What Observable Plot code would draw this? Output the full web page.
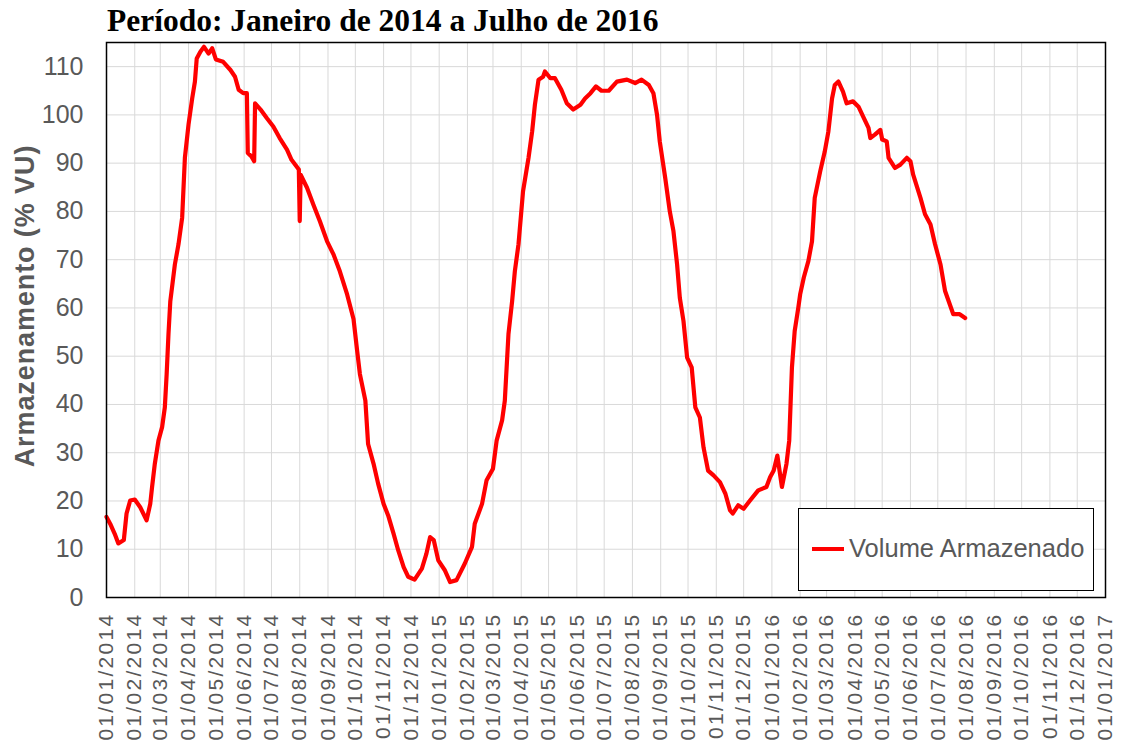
<!DOCTYPE html>
<html>
<head>
<meta charset="utf-8">
<script src="https://cdn.jsdelivr.net/npm/d3@7"></script>
<script src="https://cdn.jsdelivr.net/npm/@observablehq/plot@0.6"></script>
<style>
  body { margin: 0; background: #fff; }
  #wrap { position: relative; width: 1121px; height: 743px; overflow: hidden; font-family: "Liberation Sans", Arial, sans-serif; background: #fff; }
  #title { position: absolute; left: 107px; top: 3px; font-family: "Liberation Serif", "Times New Roman", serif; font-weight: bold; font-size: 31.5px; line-height: 36px; color: #000; white-space: nowrap; }
  #chart { position: absolute; left: 0; top: 36px; }
  #ylab { position: absolute; left: 25px; top: 306px; transform: translate(-50%, -50%) rotate(-90deg); font-weight: bold; font-size: 27px; letter-spacing: 0.9px; color: #595959; white-space: nowrap; }
  #legend { position: absolute; left: 798px; top: 508px; width: 294px; height: 81px; border: 1px solid #000; background: #fff; }
  #legend svg { position: absolute; left: 13px; top: 35px; }
  #legend span { position: absolute; left: 50px; top: 27px; font-size: 25.5px; line-height: 25px; color: #595959; white-space: nowrap; }
  #chart g[aria-label="x-axis tick label"] text { letter-spacing: 2.3px; }
</style>
</head>
<body>
<div id="wrap">
  <div id="title">Período: Janeiro de 2014 a Julho de 2016</div>
  <div id="chart"></div>
  <div id="ylab">Armazenamento (% VU)</div>
  <div id="legend">
    <svg width="34" height="10"><line x1="0" y1="5" x2="32" y2="5" stroke="#ff0000" stroke-width="4"/></svg>
    <span>Volume Armazenado</span>
  </div>
</div>
<script>
// Daily storage series (% VU)
const dates = [
  "2014-01-01","2014-01-05","2014-01-10","2014-01-14","2014-01-20","2014-01-23","2014-01-27","2014-02-01",
  "2014-02-07","2014-02-14","2014-02-18","2014-02-20","2014-02-23","2014-02-27","2014-03-03","2014-03-06",
  "2014-03-08","2014-03-10","2014-03-12","2014-03-17","2014-03-21","2014-03-25","2014-03-28","2014-04-01",
  "2014-04-05","2014-04-08","2014-04-10","2014-04-14","2014-04-18","2014-04-23","2014-04-27","2014-05-01",
  "2014-05-09","2014-05-17","2014-05-22","2014-05-26","2014-05-31","2014-06-04","2014-06-05","2014-06-09",
  "2014-06-12","2014-06-13","2014-06-19","2014-06-26","2014-07-03","2014-07-10","2014-07-18","2014-07-23",
  "2014-07-31","2014-08-01","2014-08-02","2014-08-09","2014-08-16","2014-08-23","2014-08-31","2014-09-07",
  "2014-09-14","2014-09-22","2014-09-29","2014-10-03","2014-10-06","2014-10-12","2014-10-15","2014-10-21",
  "2014-10-26","2014-11-01","2014-11-06","2014-11-12","2014-11-17","2014-11-23","2014-11-28","2014-12-05",
  "2014-12-13","2014-12-18","2014-12-22","2014-12-26","2014-12-31","2015-01-07","2015-01-13","2015-01-20",
  "2015-01-29","2015-02-06","2015-02-09","2015-02-17","2015-02-22","2015-03-01","2015-03-05","2015-03-11",
  "2015-03-14","2015-03-18","2015-03-22","2015-03-25","2015-03-29","2015-04-03","2015-04-09","2015-04-13",
  "2015-04-16","2015-04-20","2015-04-25","2015-04-27","2015-05-03","2015-05-08","2015-05-15","2015-05-21",
  "2015-05-28","2015-06-05","2015-06-10","2015-06-16","2015-06-22","2015-06-28","2015-07-06","2015-07-15",
  "2015-07-26","2015-08-04","2015-08-11","2015-08-19","2015-08-24","2015-08-28","2015-08-31","2015-09-06",
  "2015-09-11","2015-09-15","2015-09-19","2015-09-22","2015-09-26","2015-09-30","2015-10-05","2015-10-09",
  "2015-10-14","2015-10-18","2015-10-23","2015-10-29","2015-11-05","2015-11-11","2015-11-16","2015-11-19",
  "2015-11-25","2015-12-01","2015-12-08","2015-12-17","2015-12-26","2015-12-30","2016-01-03","2016-01-07",
  "2016-01-12","2016-01-17","2016-01-20","2016-01-23","2016-01-26","2016-01-30","2016-02-01","2016-02-05",
  "2016-02-10","2016-02-14","2016-02-17","2016-02-23","2016-02-28","2016-03-03","2016-03-07","2016-03-10",
  "2016-03-14","2016-03-19","2016-03-23","2016-03-30","2016-04-05","2016-04-10","2016-04-16","2016-04-18",
  "2016-04-23","2016-04-29","2016-05-01","2016-05-06","2016-05-08","2016-05-15","2016-05-21","2016-05-28",
  "2016-06-01","2016-06-04","2016-06-12","2016-06-17","2016-06-23","2016-06-28","2016-07-04","2016-07-09",
  "2016-07-18","2016-07-25","2016-07-31"
];
const volume = [
  16.7,15.3,13.2,11.2,11.9,17.4,20.1,20.3,
  18.7,16.0,19.4,22.9,27.7,32.5,35.3,39.4,
  46.3,54.6,61.4,69.0,73.2,78.7,91.1,98.0,
  103.4,106.9,111.7,113.1,114.1,112.7,113.8,111.5,
  111.0,109.3,107.9,105.2,104.5,104.5,92.1,91.4,
  90.4,102.4,101.1,99.3,97.6,95.2,92.8,90.7,
  88.7,78.0,87.6,84.9,81.4,78.0,73.8,71.1,
  67.6,62.8,57.7,51.1,46.3,40.8,31.8,27.7,
  23.6,19.4,17.0,13.2,9.8,6.3,4.3,3.7,
  6.0,9.1,12.5,11.9,7.7,5.7,3.2,3.6,
  7.0,10.5,15.3,19.4,24.3,26.7,32.5,36.7,
  40.8,54.6,61.4,67.6,73.2,84.2,91.1,96.6,
  102.1,107.3,107.9,109.0,107.6,107.6,105.2,102.4,
  101.1,102.1,103.4,104.5,105.9,105.0,105.0,106.9,
  107.3,106.6,107.3,106.2,104.5,100.0,94.5,86.9,
  80.0,75.9,69.0,62.1,57.3,49.7,47.7,39.4,
  37.3,31.1,26.3,25.3,23.9,21.5,18.1,17.4,
  19.1,18.4,20.1,22.2,22.9,24.9,26.3,29.4,
  22.9,27.7,32.5,47.7,55.2,60.1,62.8,66.3,
  69.7,73.8,82.8,88.3,92.4,96.6,103.4,106.2,
  106.9,104.8,102.4,102.8,101.7,99.7,97.3,95.2,
  95.9,96.9,94.9,94.5,91.1,89.0,89.7,91.1,
  90.4,87.6,82.8,79.4,77.3,73.2,69.0,63.5,
  58.7,58.7,57.9
];
// Axis ticks
const yTicks = [0, 10, 20, 30, 40, 50, 60, 70, 80, 90, 100, 110];
const xStart = "2014-01-01";
const xEnd = "2017-01-01";

const parse = s => new Date(s + "T00:00:00Z");
const data = dates.map((d, i) => ({date: parse(d), v: volume[i]}));
const monthTicks = d3.utcMonth.range(parse(xStart), d3.utcDay.offset(parse(xEnd), 1));

const chart = Plot.plot({
  width: 1121,
  height: 707,
  marginLeft: 106,
  marginRight: 16,
  marginTop: 6,
  marginBottom: 146,
  style: {fontFamily: "Liberation Sans, Arial, sans-serif", background: "#fff", overflow: "visible"},
  x: {type: "utc", domain: [parse(xStart), parse(xEnd)], label: null},
  y: {domain: [0, 115], label: null},
  marks: [
    Plot.gridX(monthTicks, {stroke: "#d9d9d9", strokeOpacity: 1, strokeWidth: 1}),
    Plot.gridY(yTicks, {stroke: "#d9d9d9", strokeOpacity: 1, strokeWidth: 1}),
    Plot.axisX(monthTicks, {tickFormat: d3.utcFormat("%d/%m/%Y"), tickRotate: -90, tickSize: 0, tickPadding: 15, fontSize: 21, fill: "#595959", label: null}),
    Plot.axisY(yTicks, {tickSize: 0, tickPadding: 23, fontSize: 25, fill: "#595959", label: null}),
    Plot.line(data, {x: "date", y: "v", stroke: "#ff0000", strokeWidth: 4.2, strokeLinejoin: "round", strokeLinecap: "round"}),
    Plot.frame({stroke: "#000", strokeWidth: 1.5})
  ]
});
document.getElementById("chart").appendChild(chart);
</script>
</body>
</html>
